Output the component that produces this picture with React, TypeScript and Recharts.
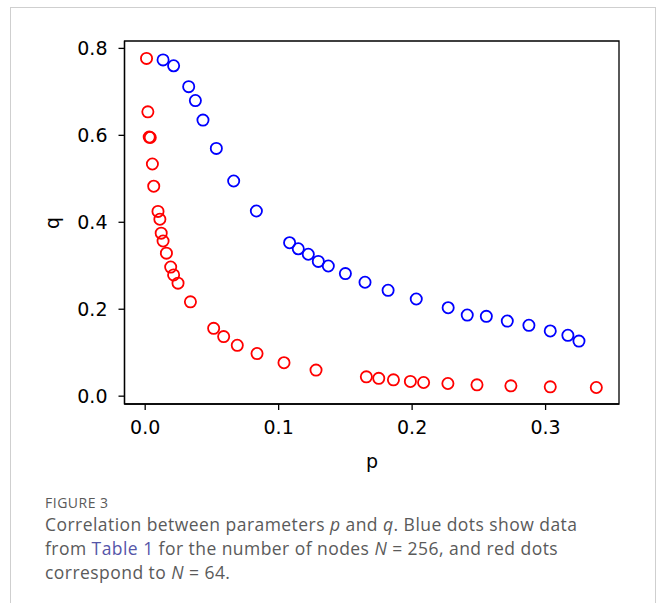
import { ScatterChart, Scatter, XAxis, YAxis, ReferenceArea } from "recharts";

// N = 256 (blue)
const blueP = [0.0134, 0.0213, 0.0326, 0.0376, 0.0433, 0.0533, 0.0663, 0.0833, 0.1082, 0.1147, 0.1222, 0.1297, 0.1372, 0.150, 0.1647, 0.182, 0.2031, 0.227, 0.2413, 0.2556, 0.2713, 0.2875, 0.3035, 0.3167, 0.325];
const blueQ = [0.7735, 0.760, 0.712, 0.680, 0.635, 0.570, 0.495, 0.426, 0.353, 0.339, 0.3265, 0.310, 0.2995, 0.282, 0.262, 0.2435, 0.2235, 0.2035, 0.1866, 0.1836, 0.1728, 0.163, 0.150, 0.140, 0.1267];

// N = 64 (red)
const redP = [0.001, 0.002, 0.003, 0.0038, 0.0054, 0.0064, 0.0096, 0.011, 0.012, 0.0134, 0.0159, 0.0191, 0.0213, 0.0246, 0.0339, 0.0513, 0.0588, 0.069, 0.0838, 0.104, 0.128, 0.1657, 0.175, 0.186, 0.1987, 0.2086, 0.2268, 0.2486, 0.274, 0.3035, 0.338];
const redQ = [0.777, 0.654, 0.596, 0.595, 0.534, 0.483, 0.425, 0.407, 0.375, 0.357, 0.329, 0.297, 0.279, 0.260, 0.217, 0.156, 0.137, 0.117, 0.098, 0.077, 0.060, 0.0445, 0.041, 0.0376, 0.0339, 0.0315, 0.0292, 0.026, 0.0238, 0.0215, 0.020];

const xTicks = [0, 0.1, 0.2, 0.3];
const yTicks = [0, 0.2, 0.4, 0.6, 0.8];
const xDomain = [-0.0155, 0.355];
const yDomain = [-0.018, 0.817];

const blueData = blueP.map((p, i) => ({ p, q: blueQ[i] }));
const redData = redP.map((p, i) => ({ p, q: redQ[i] }));

const tickFont = { fontFamily: "DejaVu Sans", fontSize: 19, fill: "#000" };

const ring = (color: string) => (props: any) => (
  <circle cx={props.cx} cy={props.cy} r={5.6} fill="none" stroke={color} strokeWidth={1.8} />
);

export default function App() {
  return (
    <div style={{ position: "absolute", left: 0, top: 0, width: 656, height: 603, overflow: "hidden", background: "#fff" }}>
      <div style={{ position: "absolute", left: 10, top: 7, width: 644, height: 640, border: "1px solid #cfcfcf" }} />
      <div style={{ position: "absolute", left: 0, top: 0 }}>
        <ScatterChart width={656} height={603} margin={{ top: 41, right: 37, left: 0, bottom: 139 }}>
          <XAxis
            dataKey="p"
            type="number"
            domain={xDomain}
            ticks={xTicks}
            allowDataOverflow
            tickFormatter={(v: number) => v.toFixed(1)}
            tick={tickFont}
            tickSize={6}
            tickMargin={11}
            height={60}
            stroke="#000"
            strokeWidth={1.3}
            label={{
              content: () => (
                <text x={372} y={468} textAnchor="middle" fontFamily="DejaVu Sans" fontSize={19} fill="#000">p</text>
              ),
            }}
          />
          <YAxis
            dataKey="q"
            type="number"
            domain={yDomain}
            ticks={yTicks}
            allowDataOverflow
            tickFormatter={(v: number) => v.toFixed(1)}
            tick={tickFont}
            tickSize={6}
            tickMargin={11}
            width={124.5}
            stroke="#000"
            strokeWidth={1.3}
            label={{
              content: () => (
                <text x={59} y={223} textAnchor="middle" transform="rotate(-90 59 223)" fontFamily="DejaVu Sans" fontSize={19} fill="#000">q</text>
              ),
            }}
          />
          {/* plot frame */}
          <ReferenceArea x1={xDomain[0]} x2={xDomain[1]} y1={yDomain[0]} y2={yDomain[1]} fill="none" stroke="#000" strokeWidth={1.3} strokeOpacity={1} />
          <Scatter data={blueData} shape={ring("#0000ff")} isAnimationActive={false} />
          <Scatter data={redData} shape={ring("#ff0000")} isAnimationActive={false} />
        </ScatterChart>
      </div>
      <div style={{ position: "absolute", left: 45, top: 495, fontFamily: "Open Sans", color: "#5a5a5a", whiteSpace: "nowrap" }}>
        <div style={{ fontSize: 14, lineHeight: "16px", letterSpacing: 0.5 }}>FIGURE 3</div>
        <div style={{ fontSize: 17.5, lineHeight: "24px", letterSpacing: 0.45, marginTop: 1 }}>
          Correlation between parameters <i>p</i> and <i>q</i>. Blue dots show data
          <br />
          from <span style={{ color: "#5555a8" }}>Table 1</span> for the number of nodes <i>N</i> = 256, and red dots
          <br />
          correspond to <i>N</i> = 64.
        </div>
      </div>
    </div>
  );
}
